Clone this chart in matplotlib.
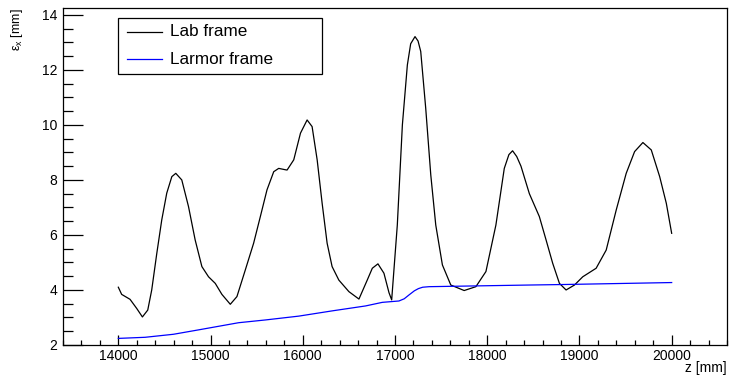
import matplotlib
matplotlib.use("Agg")
import matplotlib.pyplot as plt
from matplotlib.patches import Rectangle
from matplotlib.lines import Line2D
from matplotlib.ticker import MultipleLocator

plt.rcParams['font.family'] = ['Liberation Sans', 'DejaVu Sans']
plt.rcParams['mathtext.fontset'] = 'custom'
plt.rcParams['mathtext.rm'] = 'Liberation Sans'

# emittance in the lab frame
z_lab = [14000, 14036, 14127, 14199, 14261, 14319, 14362, 14417, 14471, 14525,
         14580, 14623, 14688, 14761, 14833, 14906, 14978, 15051, 15123, 15214,
         15286, 15377, 15467, 15540, 15612, 15685, 15739, 15812, 15830, 15902,
         15975, 16047, 16101, 16156, 16210, 16264, 16318, 16391, 16500, 16609,
         16699, 16754, 16815, 16880, 16935, 16964, 17025, 17080, 17134, 17170,
         17217, 17250, 17279, 17333, 17388, 17442, 17514, 17605, 17750, 17877,
         17986, 18094, 18185, 18235, 18275, 18320, 18366, 18457, 18565, 18638,
         18710, 18783, 18855, 18946, 19036, 19181, 19290, 19399, 19507, 19598,
         19688, 19779, 19870, 19942, 20000]
eps_lab = [4.10, 3.84, 3.66, 3.33, 3.02, 3.27, 4.00, 5.33, 6.55, 7.52,
           8.12, 8.24, 8.00, 7.03, 5.82, 4.85, 4.48, 4.24, 3.84, 3.48,
           3.76, 4.73, 5.70, 6.67, 7.64, 8.30, 8.42, 8.37, 8.36, 8.73,
           9.70, 10.18, 9.94, 8.73, 7.15, 5.70, 4.85, 4.36, 3.94, 3.67,
           4.36, 4.79, 4.95, 4.61, 3.90, 3.64, 6.36, 10.00, 12.18, 12.95,
           13.21, 13.05, 12.67, 10.61, 8.18, 6.36, 4.91, 4.18, 3.98, 4.12,
           4.67, 6.36, 8.42, 8.92, 9.06, 8.85, 8.50, 7.50, 6.67, 5.82,
           4.97, 4.24, 4.00, 4.18, 4.48, 4.79, 5.45, 6.91, 8.24, 9.03,
           9.36, 9.09, 8.12, 7.15, 6.06]

# emittance in the Larmor frame
z_lar = [14000, 14290, 14598, 14870, 15304, 15594, 15957, 16318, 16681, 16862,
         17043, 17100, 17152, 17210, 17254, 17300, 17370, 17913, 18457, 18855,
         20000]
eps_lar = [2.24, 2.28, 2.39, 2.55, 2.81, 2.91, 3.05, 3.24, 3.42, 3.55,
           3.60, 3.68, 3.82, 3.97, 4.05, 4.10, 4.12, 4.15, 4.18, 4.20,
           4.27]

labels = ['Lab frame', 'Larmor frame']
colors = ['black', '#0000ff']

W, H = 729, 376
fig = plt.figure(figsize=(W / 100, H / 100), dpi=100)
ax = fig.add_axes([63 / W, 31 / H, 664 / W, 337 / H])

ax.plot(z_lab, eps_lab, color=colors[0], lw=0.9)
ax.plot(z_lar, eps_lar, color=colors[1], lw=0.9)

ax.set_xlim(13400, 20600)
ax.set_ylim(2, 14.25)

ax.xaxis.set_major_locator(MultipleLocator(1000))
ax.xaxis.set_minor_locator(MultipleLocator(200))
ax.yaxis.set_major_locator(MultipleLocator(2))
ax.yaxis.set_minor_locator(MultipleLocator(0.5))
ax.set_xticks([14000, 15000, 16000, 17000, 18000, 19000, 20000])

ax.tick_params(axis='both', which='both', direction='in', top=False, right=False,
               labelsize=10, width=0.9)
ax.tick_params(axis='y', which='major', length=14.4, pad=4)
ax.tick_params(axis='y', which='minor', length=7.2)
ax.tick_params(axis='x', which='major', length=7.2, pad=3)
ax.tick_params(axis='x', which='minor', length=3.6)
for s in ax.spines.values():
    s.set_linewidth(0.9)

fig.text(727 / W, 1 - 368 / H, 'z [mm]', ha='right', va='center', fontsize=10)
fig.text(17 / W, 1 - 8 / H, r'ε$_{\mathrm{x}}$ [mm]', ha='center', va='top',
         rotation=90, fontsize=9)

# legend box drawn in figure pixels
def fx(px):
    return px / W

def fy(py):
    return 1 - py / H

fig.patches.append(Rectangle((fx(118), fy(74)), fx(322) - fx(118), fy(17.7) - fy(74),
                             transform=fig.transFigure, facecolor='white',
                             edgecolor='black', lw=0.9, zorder=5))
for i, (lab, col) in enumerate(zip(labels, colors)):
    yy = 32 + 27 * i
    fig.lines.append(Line2D([fx(127), fx(162)], [fy(yy), fy(yy)], color=col, lw=0.9,
                            transform=fig.transFigure, zorder=6))
    fig.text(fx(170), fy(yy), lab, ha='left', va='center', fontsize=12.3, zorder=6)

fig.savefig('out.png', dpi=100)
